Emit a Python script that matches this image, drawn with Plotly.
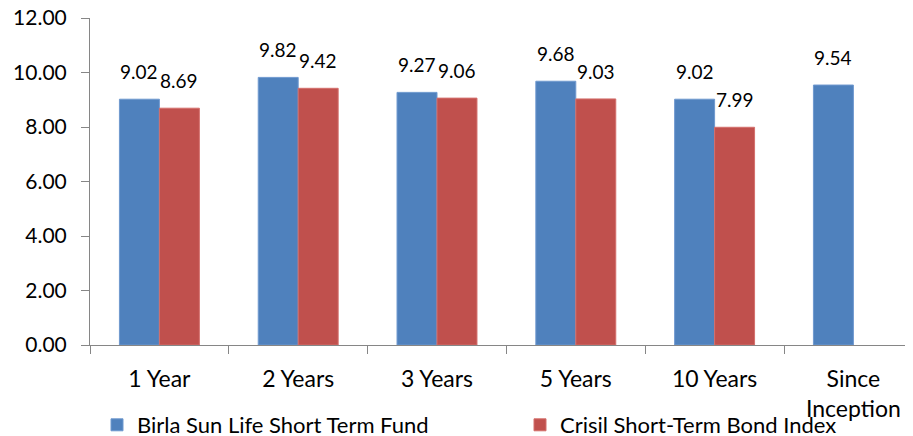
import plotly.graph_objects as go

categories = ["1 Year", "2 Years", "3 Years", "5 Years", "10 Years", "Since<br>Inception"]
fund_values = [9.02, 9.82, 9.27, 9.68, 9.02, 9.54]
index_values = [8.69, 9.42, 9.06, 9.03, 7.99, None]
fund_name = "Birla Sun Life Short Term Fund"
index_name = "Crisil Short-Term Bond Index"
y_ticks = [0, 2, 4, 6, 8, 10, 12]

BLUE = "#4F81BD"
RED = "#C0504D"
AXIS = "#868686"
FONT = "Lato"

fig = go.Figure()
fig.add_trace(go.Bar(x=categories, y=fund_values, name=fund_name, legend="legend",
                     marker=dict(color=BLUE, line=dict(color="#6F99CF", width=1))))
fig.add_trace(go.Bar(x=categories, y=index_values, name=index_name, legend="legend2",
                     marker=dict(color=RED, line=dict(color="#D46F6C", width=1))))

for c, v in zip(categories, fund_values):
    fig.add_annotation(x=c, y=v, text=f"{v:.2f}", showarrow=False, xshift=-20,
                       yshift=14, yanchor="bottom", font=dict(size=19, color="#000", family=FONT))
for c, v in zip(categories, index_values):
    if v is None:
        continue
    fig.add_annotation(x=c, y=v, text=f"{v:.2f}", showarrow=False, xshift=20,
                       yshift=14, yanchor="bottom", font=dict(size=19, color="#000", family=FONT))

legend_common = dict(orientation="h", xanchor="left", yanchor="middle",
                     font=dict(size=22, family=FONT, color="#000"), itemclick=False,
                     bgcolor="rgba(0,0,0,0)", borderwidth=0)

fig.update_layout(
    width=913, height=436,
    margin=dict(l=82, r=8, t=10, b=99, autoexpand=False),
    paper_bgcolor="white", plot_bgcolor="white",
    font=dict(family=FONT, size=20, color="#000"),
    barmode="group", bargap=0.424, bargroupgap=0,
    showlegend=True,
    legend=dict(x=(97 - 90) / 823, y=-(425 - 345) / 327, **legend_common),
    legend2=dict(x=(520 - 90) / 823, y=-(425 - 345) / 327, **legend_common),
)
fig.update_xaxes(type="category", range=[-0.5, -0.5 + 823 / 138.8], automargin=False,
                 showline=True, linecolor=AXIS, linewidth=1,
                 ticks="outside", tickson="boundaries", ticklen=8, tickcolor=AXIS,
                 showgrid=False, zeroline=False, tickfont=dict(size=23),
                 ticklabelstandoff=13, ticklabeloverflow="allow")
fig.update_yaxes(range=[0, 12], tickvals=y_ticks, tickformat=".2f", automargin=False,
                 showline=True, linecolor=AXIS, linewidth=1,
                 ticks="outside", ticklen=8, tickcolor=AXIS,
                 showgrid=False, zeroline=False, tickfont=dict(size=21),
                 ticklabelstandoff=10, ticklabeloverflow="allow")

fig.write_html("out.html")
